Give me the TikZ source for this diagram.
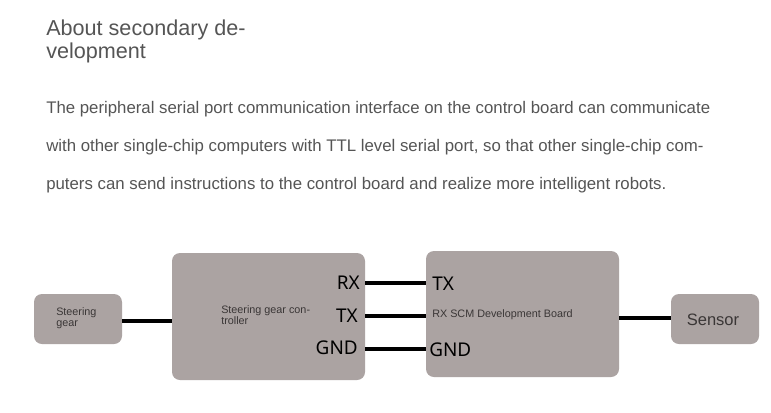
\documentclass[tikz,border=0pt]{standalone}
\usepackage{fontspec}
\setmainfont{Liberation Sans}
\newfontfamily\labfont{Noto Sans}
\definecolor{boxfill}{RGB}{171,163,162}
\definecolor{txtgrey}{RGB}{85,85,85}
\definecolor{boxtxt}{RGB}{58,54,54}
\begin{document}
\begin{tikzpicture}[x=0.75pt,y=-0.75pt,
  blk/.style={fill=boxfill,draw=none,rounded corners=6pt,inner sep=0pt},
  wire/.style={line width=2.4pt,black},
  pin/.style={font=\labfont\fontsize{14.2pt}{16pt}\selectfont,inner sep=0pt,text=black},
  small/.style={font=\fontsize{8.1pt}{9pt}\selectfont,text=boxtxt,inner sep=0pt,align=left},
  para/.style={font=\fontsize{12.6pt}{14pt}\selectfont,text=txtgrey,inner sep=0pt,anchor=base west},
  ttl/.style={font=\fontsize{16.2pt}{18pt}\selectfont,text=txtgrey,inner sep=0pt,anchor=base west}]
\useasboundingbox (0,0) rectangle (771,412);
\fill[white] (0,0) rectangle (771,412);
% title and paragraph
\node[ttl] (t1) at (46,35) {About secondary de-};
\node[ttl] (t2) at (46,58) {velopment};
\node[para] (p1) at (46,113) {The peripheral serial port communication interface on the control board can communicate};
\node[para] (p2) at (46,151) {with other single-chip computers with TTL level serial port, so that other single-chip com-};
\node[para] (p3) at (46,189) {puters can send instructions to the control board and realize more intelligent robots.};
% blocks
\node[blk,minimum width=66pt,minimum height=37.5pt] (sg) at (78,319) {};
\node[blk,minimum width=144.75pt,minimum height=95.25pt] (ctrl) at (268.5,316.5) {};
\node[blk,minimum width=144.75pt,minimum height=94.5pt] (board) at (522.5,314) {};
\node[blk,minimum width=66pt,minimum height=37.5pt] (sensor) at (715,319) {};
% texts in blocks
\node[small,anchor=west] (sgt) at (56,318) {Steering\\[-0.5pt]gear};
\node[small,anchor=west] (ctt) at (221,315) {Steering gear con-\\[-0.5pt]troller};
\node[small,anchor=west] (bdt) at (432,315) {RX SCM Development Board};
\node[font=\fontsize{12.4pt}{14pt}\selectfont,text=boxtxt,inner sep=0pt] (sst) at (713,320) {Sensor};
% pin labels
\node[pin,anchor=east] (crx) at (360,283) {RX};
\node[pin,anchor=east] (ctx) at (358,316) {TX};
\node[pin,anchor=east] (cgnd) at (358,348) {GND};
\node[pin,anchor=west] (btx) at (432,284) {TX};
\node[pin,anchor=west] (bgnd) at (429,350) {GND};
% wires
\draw[wire] (sg.east |- 0,321) -- (ctrl.west |- 0,321);
\draw[wire] (ctrl.east |- 0,283) -- (board.west |- 0,283);
\draw[wire] (ctrl.east |- 0,316) -- (board.west |- 0,316);
\draw[wire] (ctrl.east |- 0,349) -- (board.west |- 0,349);
\draw[wire] (board.east |- 0,318) -- (sensor.west |- 0,318);
\end{tikzpicture}
\end{document}
